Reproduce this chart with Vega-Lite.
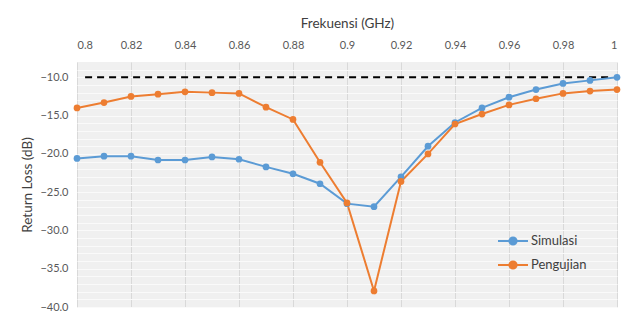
{
  "$schema": "https://vega.github.io/schema/vega-lite/v6.json",
  "width": 540,
  "height": 245,
  "autosize": {"type": "none"},
  "padding": {"left": 77, "top": 62, "right": 20, "bottom": 13},
  "background": "white",
  "config": {
    "font": "Lato",
    "view": {"fill": "#f0f0f0", "stroke": null}
  },
  "datasets": {
    "rl": [
      {"freq": 0.80, "series": "Simulasi", "rl": -20.6},
      {"freq": 0.81, "series": "Simulasi", "rl": -20.3},
      {"freq": 0.82, "series": "Simulasi", "rl": -20.3},
      {"freq": 0.83, "series": "Simulasi", "rl": -20.8},
      {"freq": 0.84, "series": "Simulasi", "rl": -20.8},
      {"freq": 0.85, "series": "Simulasi", "rl": -20.4},
      {"freq": 0.86, "series": "Simulasi", "rl": -20.7},
      {"freq": 0.87, "series": "Simulasi", "rl": -21.7},
      {"freq": 0.88, "series": "Simulasi", "rl": -22.6},
      {"freq": 0.89, "series": "Simulasi", "rl": -23.9},
      {"freq": 0.90, "series": "Simulasi", "rl": -26.5},
      {"freq": 0.91, "series": "Simulasi", "rl": -26.9},
      {"freq": 0.92, "series": "Simulasi", "rl": -23.0},
      {"freq": 0.93, "series": "Simulasi", "rl": -19.0},
      {"freq": 0.94, "series": "Simulasi", "rl": -15.9},
      {"freq": 0.95, "series": "Simulasi", "rl": -14.0},
      {"freq": 0.96, "series": "Simulasi", "rl": -12.6},
      {"freq": 0.97, "series": "Simulasi", "rl": -11.6},
      {"freq": 0.98, "series": "Simulasi", "rl": -10.8},
      {"freq": 0.99, "series": "Simulasi", "rl": -10.4},
      {"freq": 1.00, "series": "Simulasi", "rl": -10.0},
      {"freq": 0.80, "series": "Pengujian", "rl": -14.0},
      {"freq": 0.81, "series": "Pengujian", "rl": -13.3},
      {"freq": 0.82, "series": "Pengujian", "rl": -12.5},
      {"freq": 0.83, "series": "Pengujian", "rl": -12.2},
      {"freq": 0.84, "series": "Pengujian", "rl": -11.9},
      {"freq": 0.85, "series": "Pengujian", "rl": -12.0},
      {"freq": 0.86, "series": "Pengujian", "rl": -12.1},
      {"freq": 0.87, "series": "Pengujian", "rl": -13.9},
      {"freq": 0.88, "series": "Pengujian", "rl": -15.5},
      {"freq": 0.89, "series": "Pengujian", "rl": -21.1},
      {"freq": 0.90, "series": "Pengujian", "rl": -26.4},
      {"freq": 0.91, "series": "Pengujian", "rl": -37.9},
      {"freq": 0.92, "series": "Pengujian", "rl": -23.6},
      {"freq": 0.93, "series": "Pengujian", "rl": -20.0},
      {"freq": 0.94, "series": "Pengujian", "rl": -16.1},
      {"freq": 0.95, "series": "Pengujian", "rl": -14.8},
      {"freq": 0.96, "series": "Pengujian", "rl": -13.6},
      {"freq": 0.97, "series": "Pengujian", "rl": -12.8},
      {"freq": 0.98, "series": "Pengujian", "rl": -12.1},
      {"freq": 0.99, "series": "Pengujian", "rl": -11.8},
      {"freq": 1.00, "series": "Pengujian", "rl": -11.6}
    ],
    "threshold": [{"x0": 0.803, "x1": 0.998, "level": -10}]
  },
  "layer": [
    {
      "data": {"name": "threshold"},
      "mark": {"type": "rule", "color": "black", "strokeWidth": 2, "strokeDash": [7, 5]},
      "encoding": {
        "x": {"field": "x0", "type": "quantitative", "scale": {"domain": [0.8, 1.0]}},
        "x2": {"field": "x1"},
        "y": {
          "field": "level", "type": "quantitative",
          "scale": {"domain": [-40, -8], "nice": false},
          "axis": {
            "orient": "right", "labels": false, "ticks": false, "domain": false, "title": null,
            "grid": true, "gridColor": "#fafafa", "gridWidth": 1,
            "values": [-40,-39,-38,-37,-36,-35,-34,-33,-32,-31,-30,-29,-28,-27,-26,-25,-24,-23,-22,-21,-20,-19,-18,-17,-16,-15,-14,-13,-12,-11,-10,-9]
          }
        }
      }
    },
    {
      "data": {"name": "rl"},
      "mark": {"type": "line", "strokeWidth": 2, "point": {"filled": true, "size": 45}},
      "encoding": {
        "x": {
          "field": "freq", "type": "quantitative",
          "scale": {"domain": [0.8, 1.0], "nice": false, "zero": false},
          "axis": {
            "orient": "top", "title": "Frekuensi (GHz)",
            "values": [0.8, 0.82, 0.84, 0.86, 0.88, 0.9, 0.92, 0.94, 0.96, 0.98, 1.0],
            "format": "~g", "domain": false, "ticks": false,
            "grid": true, "gridColor": "#d9d9d9", "gridWidth": 1,
            "labelFontSize": 11, "labelColor": "#595959", "labelPadding": 12,
            "titleFontSize": 13.5, "titleFontWeight": "normal", "titleColor": "#404040", "titlePadding": 9
          }
        },
        "y": {
          "field": "rl", "type": "quantitative",
          "scale": {"domain": [-40, -8], "nice": false, "zero": false},
          "axis": {
            "orient": "left", "title": "Return Loss (dB)",
            "values": [-40, -35, -30, -25, -20, -15, -10],
            "format": ".1f", "domain": false, "ticks": false, "grid": false,
            "labelFontSize": 11, "labelColor": "#595959", "labelPadding": 9,
            "titleFontSize": 13.5, "titleFontWeight": "normal", "titleColor": "#404040", "titlePadding": 5
          }
        },
        "color": {
          "field": "series", "type": "nominal",
          "scale": {"domain": ["Simulasi", "Pengujian"], "range": ["#5b9bd5", "#ed7d31"]},
          "legend": {
            "title": null, "orient": "none", "legendX": 420, "legendY": 163,
            "labelFontSize": 13, "labelColor": "#404040", "rowPadding": -6, "labelOffset": 2,
            "symbolType": "M-1,0L1,0M-0.24,0A0.24,0.24,0,1,0,0.24,0A0.24,0.24,0,1,0,-0.24,0",
            "symbolSize": 900, "symbolStrokeWidth": 2
          }
        }
      }
    }
  ],
  "resolve": {"axis": {"y": "independent"}}
}
